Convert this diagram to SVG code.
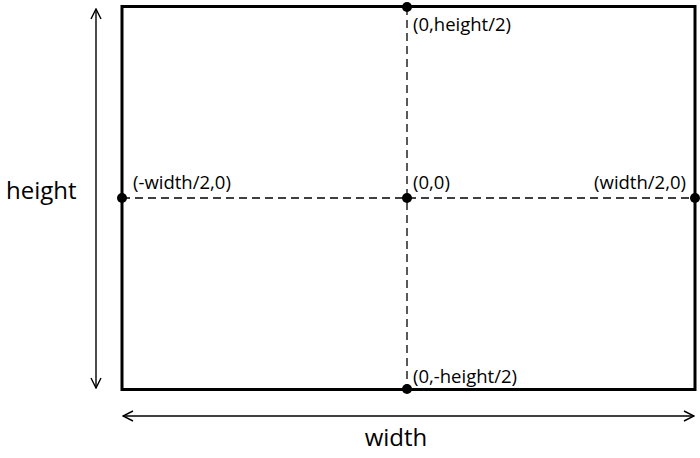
<svg xmlns="http://www.w3.org/2000/svg" width="700" height="458" viewBox="0 0 700 458">
<style>
.lbl{font-family:"Open Sans","Liberation Sans",sans-serif;font-size:18.5px;fill:#000}
.big{font-family:"Open Sans","Liberation Sans",sans-serif;font-size:24px;fill:#000}
.dash{stroke:#000;stroke-width:1.3;stroke-dasharray:8,5;fill:none}
.dot{fill:#000}
</style>
<defs>
<marker id="arr" viewBox="0 0 12 12" refX="11" refY="6" markerWidth="12" markerHeight="12" markerUnits="userSpaceOnUse" orient="auto-start-reverse">
<path d="M1,1 L11,6 L1,11" fill="none" stroke="#000" stroke-width="1.4"/>
</marker>
</defs>
<rect width="700" height="458" fill="#fff"/>
<g id="connectors">
<line class="dash" x1="407" y1="7" x2="407" y2="389"/>
<line class="dash" x1="122" y1="198" x2="695" y2="198"/>
<line x1="96" y1="9" x2="96" y2="388" stroke="#000" stroke-width="1.4" marker-start="url(#arr)" marker-end="url(#arr)"/>
<line x1="123" y1="416" x2="694" y2="416" stroke="#000" stroke-width="1.4" marker-start="url(#arr)" marker-end="url(#arr)"/>
</g>
<g id="frame">
<rect x="122" y="6.5" width="573" height="383" fill="none" stroke="#000" stroke-width="3"/>
</g>
<g id="top"><circle class="dot" cx="407" cy="7" r="5"/><text class="lbl" x="413" y="31">(0,height/2)</text></g>
<g id="left"><circle class="dot" cx="122" cy="198" r="5"/><text class="lbl" x="133" y="189">(-width/2,0)</text></g>
<g id="center"><circle class="dot" cx="407" cy="198" r="5"/><text class="lbl" x="413" y="189">(0,0)</text></g>
<g id="right"><circle class="dot" cx="695" cy="198" r="5"/><text class="lbl" x="686" y="189" text-anchor="end">(width/2,0)</text></g>
<g id="bottom"><circle class="dot" cx="407" cy="389" r="5"/><text class="lbl" x="413" y="383">(0,-height/2)</text></g>
<text class="big" x="6" y="199">height</text>
<text class="big" x="396" y="446" text-anchor="middle">width</text>
</svg>
